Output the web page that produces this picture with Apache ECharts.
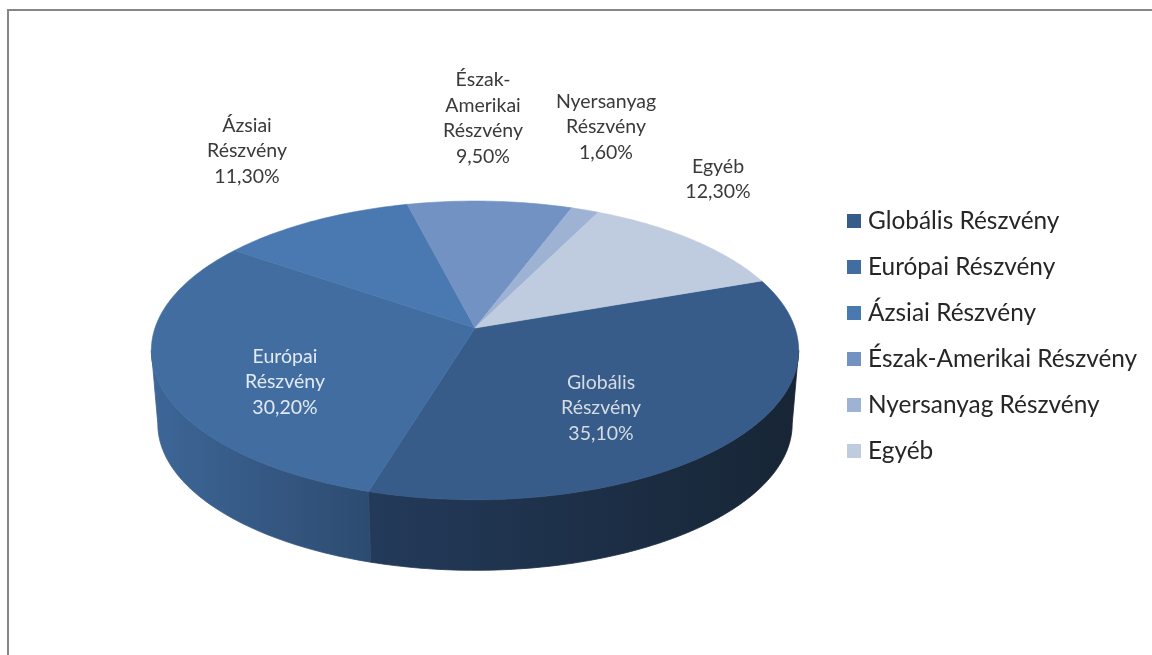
<!DOCTYPE html>
<html>
<head>
<meta charset="utf-8">
<title>Részvény megoszlás</title>
<script src="https://cdn.jsdelivr.net/npm/echarts@6/dist/echarts.min.js"></script>
<style>
    html, body { margin: 0; background: #fff; }
    #chart { width: 1152px; height: 655px; }
</style>
</head>
<body>
<div id="chart"></div>
<script>
    // adatok
    const categories = ['Globális Részvény', 'Európai Részvény', 'Ázsiai Részvény', 'Észak-Amerikai Részvény', 'Nyersanyag Részvény', 'Egyéb']
    const shares = [35.1, 30.2, 11.3, 9.5, 1.6, 12.3]
    const labelLines = [
        ['Globális', 'Részvény'],
        ['Európai', 'Részvény'],
        ['Ázsiai', 'Részvény'],
        ['Észak-', 'Amerikai', 'Részvény'],
        ['Nyersanyag', 'Részvény'],
        ['Egyéb']
    ]

    // stílus
    const topColors = ['#375c89', '#416da1', '#4a79b1', '#7192c2', '#9eb3d3', '#bfcbdf']
    const labelColors = ['#d5dbe2', '#e2e9f2', '#3a3a3a', '#3a3a3a', '#3a3a3a', '#3a3a3a']
    // felirat középpontok (px)
    const labelSpots = [[601, 408], [285, 382], [247, 151], [483, 118], [606, 127], [718, 179]]
    // oldalfal színátmenet: [x0, x1, szín0, szín1]
    const wallShades = [
        [372, 799, '#233a5a', '#172535'],
        [152, 372, '#3d6697', '#2d4b70'],
        null, null, null, null
    ]

    // perspektíva
    const cx = 475, topCy = 328, botCy = 402
    const rx = 320, ry = 146, persp = 0.15, botScale = 0.98
    const startAngle = 70.2
    const wallFrom = 98.6, wallTo = 261.4

    function project(deg, cy, scale) {
        const a = deg * Math.PI / 180
        const z = Math.cos(a)
        const s = scale / (1 + persp * z)
        return [cx + rx * Math.sin(a) * s, cy - ry * z * s]
    }

    function arc(from, to, cy, scale) {
        let pts = []
        const n = Math.max(2, Math.ceil(Math.abs(to - from)))
        for (let i = 0; i <= n; i++) {
            pts.push(project(from + (to - from) * i / n, cy, scale))
        }
        return pts
    }

    function percent(v) {
        return v.toFixed(2).replace('.', ',') + '%'
    }

    const total = shares.reduce((a, b) => a + b, 0)
    let running = 0
    const series = categories.map((name, i) => {
        const before = running
        running += shares[i]
        return {
            name: name,
            type: 'custom',
            coordinateSystem: 'none',
            itemStyle: { color: topColors[i] },
            silent: true,
            data: [[shares[i], before]],
            renderItem: (params, api) => {
                const from = startAngle + api.value(1) / total * 360
                const to = from + api.value(0) / total * 360
                const color = topColors[i]
                let children = []

                // elülső oldalfal, ha látszik
                const wf = Math.max(from, wallFrom), wt = Math.min(to, wallTo)
                if (wt > wf && wallShades[i]) {
                    const shade = wallShades[i]
                    const fill = new echarts.graphic.LinearGradient(shade[0], 0, shade[1], 0, [
                        { offset: 0, color: shade[2] },
                        { offset: 1, color: shade[3] }
                    ], true)
                    children.push({
                        type: 'polygon',
                        shape: { points: arc(wf, wt, topCy, 1).concat(arc(wt, wf, botCy, botScale)) },
                        style: { fill: fill, stroke: fill, lineWidth: 0.8 }
                    })
                }

                // felső lap
                children.push({
                    type: 'polygon',
                    shape: { points: [[cx, topCy]].concat(arc(from, to, topCy, 1)) },
                    style: { fill: color, stroke: color, lineWidth: 0.6 },
                    z2: 2
                })

                children.push({
                    type: 'text',
                    x: labelSpots[i][0],
                    y: labelSpots[i][1],
                    z2: 5,
                    style: {
                        text: labelLines[i].concat(percent(api.value(0))).join('\n'),
                        fill: labelColors[i],
                        font: '19.5px Lato',
                        lineHeight: 25.5,
                        align: 'center',
                        verticalAlign: 'middle'
                    }
                })
                return { type: 'group', children: children }
            }
        }
    })

    const chart = echarts.init(document.getElementById('chart'))
    chart.setOption({
        animation: false,
        backgroundColor: '#fff',
        legend: {
            data: categories,
            orient: 'vertical',
            left: 847,
            top: 209,
            padding: 0,
            itemWidth: 14,
            itemHeight: 14,
            itemGap: 22,
            icon: 'rect',
            textStyle: {
                fontFamily: 'Lato',
                fontSize: 24.4,
                lineHeight: 24,
                color: '#262626',
                padding: [0, 0, 0, 2]
            }
        },
        graphic: [{
            type: 'polyline',
            shape: { points: [[1152, 10], [8, 10], [8, 655]] },
            style: { fill: null, stroke: '#868686', lineWidth: 2 }
        }],
        series: series
    })
</script>
</body>
</html>
